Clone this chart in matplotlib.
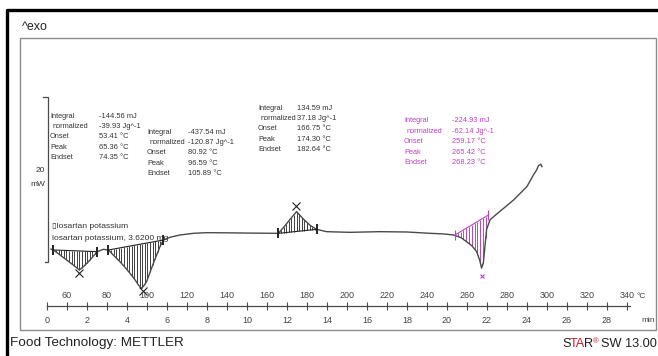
import numpy as np
import matplotlib
matplotlib.use("Agg")
from matplotlib import pyplot as plt
from matplotlib.lines import Line2D
from matplotlib.patches import Rectangle

# DSC curve of losartan potassium, heat flow in mW against temperature in degC
temperature = [52.0, 53.2, 56.5, 59.8, 63.0, 66.2, 68.5, 70.7, 73.0, 75.2, 78.2,
               80.7, 83.5, 86.5, 89.0, 91.5, 94.0, 95.7, 97.3, 98.5, 99.8, 101.5,
               103.2, 105.0, 106.5, 108.2, 111.5, 116.5, 123.2, 130.0, 140.0,
               150.0, 160.0, 165.7, 168.5, 171.5, 174.8, 178.0, 181.5, 184.8,
               189.8, 201.5, 216.5, 230.0, 241.5, 248.0, 253.2, 257.0, 259.8,
               262.5, 264.8, 266.3, 267.3, 268.2, 269.0, 269.8, 271.5, 273.3,
               283.3, 290.0, 293.2, 294.8, 295.7, 296.8, 297.5]
heat_flow = [0.1, 0.0, -0.6, -1.21, -1.8, -2.42, -1.95, -1.42, -0.8, -0.2, 0.08,
             0.0, -0.7, -1.42, -2.1, -2.83, -3.6, -4.24, -4.65, -4.3, -3.84, -2.7,
             -1.61, -0.5, 0.4, 1.21, 1.54, 1.82, 2.02, 2.1, 2.08,
             2.05, 2.03, 2.02, 2.8, 3.7, 4.65, 3.8, 3.0, 2.5,
             2.22, 2.14, 2.22, 2.18, 2.02, 1.95, 1.82, 1.5, 1.0,
             0.5, -0.2, -1.2, -2.2, -1.5, 0.5, 2.5, 3.64, 4.04,
             6.06, 7.7, 9.09, 9.7, 10.2, 10.4, 10.1]

# integration limits (temperature, heat flow) of the four evaluated peaks
limits_t = [(53.2, 75.2), (80.7, 108.2), (165.7, 184.8), (254.0, 270.7)]
limits_y = [(0.0, -0.2), (0.0, 1.21), (2.02, 2.5), (1.82, 4.24)]
peak_marks_t = [66.2, 98.0, 174.5, 267.5]
peak_marks_y = [-2.8, -5.0, 5.3, -3.1]

labels = ["Integral", "normalized", "Onset", "Peak", "Endset"]
results = [
    ["-144.56 mJ", "-39.93 Jg^-1", "53.41 \u00b0C", "65.36 \u00b0C", "74.35 \u00b0C"],
    ["-437.54 mJ", "-120.87 Jg^-1", "80.92 \u00b0C", "96.59 \u00b0C", "105.89 \u00b0C"],
    ["134.59 mJ", "37.18 Jg^-1", "166.75 \u00b0C", "174.30 \u00b0C", "182.64 \u00b0C"],
    ["-224.93 mJ", "-62.14 Jg^-1", "259.17 \u00b0C", "265.42 \u00b0C", "268.23 \u00b0C"],
]

temp_ticks = list(range(60, 341, 20))
time_ticks = list(range(0, 29, 2))

W, H = 658, 356
CURVE = "#4a4a4a"
TEXT = "#333333"
PINK = "#c040c8"
ARIAL = ["Liberation Sans", "DejaVu Sans"]

fig = plt.figure(figsize=(W / 100, H / 100), dpi=100)


def fx(x):
    return x / W


def fy(y):
    return 1 - y / H


# main area: 2 px per degC, 8.25 px per mW
ax = fig.add_axes([0, 0, 1, 1])
ax.set_xlim(26.5, 355.5)
ax.set_ylim(-12.85, 30.30)
ax.axis("off")

ax.plot(temperature, heat_flow, color=CURVE, lw=1.0, zorder=3)

t_arr = np.array(temperature)
y_arr = np.array(heat_flow)
for i, ((t0, t1), (y0, y1)) in enumerate(zip(limits_t, limits_y)):
    col = PINK if i == 3 else "#222222"
    base_t = [t0, t1]
    base_y = [y0, y1]
    ax.plot(base_t, base_y, color=col, lw=0.8, zorder=3)
    hatch_t = np.arange(t0, t1, 1.3 if i < 3 else 1.4)
    ax.vlines(hatch_t, np.interp(hatch_t, base_t, base_y),
              np.interp(hatch_t, t_arr, y_arr), color=col,
              lw=0.6 if i < 3 else 0.7, zorder=2)
    ax.plot(base_t, base_y, ls="none", marker="|", ms=7,
            mew=1.4 if i < 3 else 0.8, color=col, zorder=4)
    ax.plot(peak_marks_t[i], peak_marks_y[i], ls="none",
            marker="x", ms=6 if i < 3 else 3, mew=0.8, color=col, zorder=4)

# 20 mW scale bar
ax.plot([48.0, 50.5, 50.5, 49.0], [18.55, 18.55, -1.45, -1.45], color=CURVE, lw=0.9)
fig.text(fx(40), fy(171), "20", fontsize=6, family=ARIAL, color=TEXT,
         ha="center", va="center")
fig.text(fx(38), fy(184), "mW", fontsize=6, family=ARIAL, color=TEXT,
         ha="center", va="center")

# evaluation result blocks
block_pos = [(50, 99, 116), (147, 188, 132), (258, 297, 108), (404, 452, 121)]
for k, (xl, xv, y0) in enumerate(block_pos):
    col = PINK if k == 3 else TEXT
    for r, (lab, val) in enumerate(zip(labels, results[k])):
        yy = y0 + r * 10.4
        fig.text(fx(xl + (3 if r == 1 else 0)), fy(yy), lab, fontsize=5.3,
                 family=ARIAL, color=col, va="center")
        fig.text(fx(xv), fy(yy), val, fontsize=5.4, family=ARIAL,
                 color=col, va="center")

fig.text(fx(52), fy(226), "\u25af" + "losartan potassium", fontsize=6.1,
         family=ARIAL, color=TEXT, va="center")
fig.text(fx(52), fy(238), "losartan potassium, 3.6200 mg", fontsize=6.1,
         family=ARIAL, color=TEXT, va="center")

# temperature / time scale
scale_y = 306
ax_s = fig.add_axes([0, fy(scale_y), 1, 1e-4])
ax_s.set_xlim(26.5, 355.5)
ax_s.patch.set_visible(False)
ax_s.set_yticks([])
for side in ["left", "right", "bottom"]:
    ax_s.spines[side].set_visible(False)
ax_s.spines["top"].set_bounds(50, 341.5)
ax_s.spines["top"].set_color(CURVE)
ax_s.spines["top"].set_linewidth(0.9)
ax_s.xaxis.tick_top()
ax_s.set_xticks(temp_ticks)
ax_s.set_xticklabels([str(t) for t in temp_ticks], family=ARIAL)
ax_s.tick_params(axis="x", direction="inout", length=6, width=0.8, color=CURVE,
                 labelsize=6.5, labelcolor="#444444", pad=1.5)

sec = ax_s.secondary_xaxis("bottom", functions=(lambda t: (t - 50) / 10,
                                                 lambda m: m * 10 + 50))
sec.set_xticks(time_ticks)
sec.set_xticklabels([str(m) for m in time_ticks], family=ARIAL)
sec.spines["bottom"].set_visible(False)
sec.tick_params(axis="x", direction="inout", length=6, width=0.8, color=CURVE,
                labelsize=6.5, labelcolor="#444444", pad=4)

fig.text(fx(641), fy(296), "\u00b0C", fontsize=6, family=ARIAL,
         color="#444444", ha="center", va="center")
fig.text(fx(648), fy(321), "min", fontsize=6, family=ARIAL,
         color="#444444", ha="center", va="center")

# frames
fig.add_artist(Rectangle((fx(20), fy(330)), fx(656) - fx(20), fy(38) - fy(330),
                         transform=fig.transFigure, fill=False,
                         edgecolor="#8c8c8c", lw=1.0))
fig.add_artist(Line2D([fx(7), fx(7), 1], [0, fy(10), fy(10)],
                      transform=fig.transFigure, color="black", lw=2.4))

fig.text(fx(22), fy(27), "^exo", fontsize=9, family=ARIAL,
         color="#222222", va="center")
fig.text(fx(10), fy(343), "Food Technology: METTLER", fontsize=9.7,
         family=ARIAL, color="#222222", va="center")

# STAR(R) SW 13.00, with the red letters of the logo
star_parts = [("S", 562, "#222222", 9.2, 0), ("TA", 569.5, "#d0202a", 9.2, 0),
              ("R", 584, "#222222", 9.2, 0), ("\u00ae", 592.5, "#d0202a", 5.5, -4)]
for piece, xp, col, size, dy in star_parts:
    fig.text(fx(xp), fy(347 + dy), piece, fontsize=size, family=ARIAL,
             color=col, va="baseline")
fig.text(fx(657), fy(347), "SW 13.00", fontsize=9.2, family=ARIAL,
         color="#222222", va="baseline", ha="right")

fig.savefig("out.png", dpi=100)
